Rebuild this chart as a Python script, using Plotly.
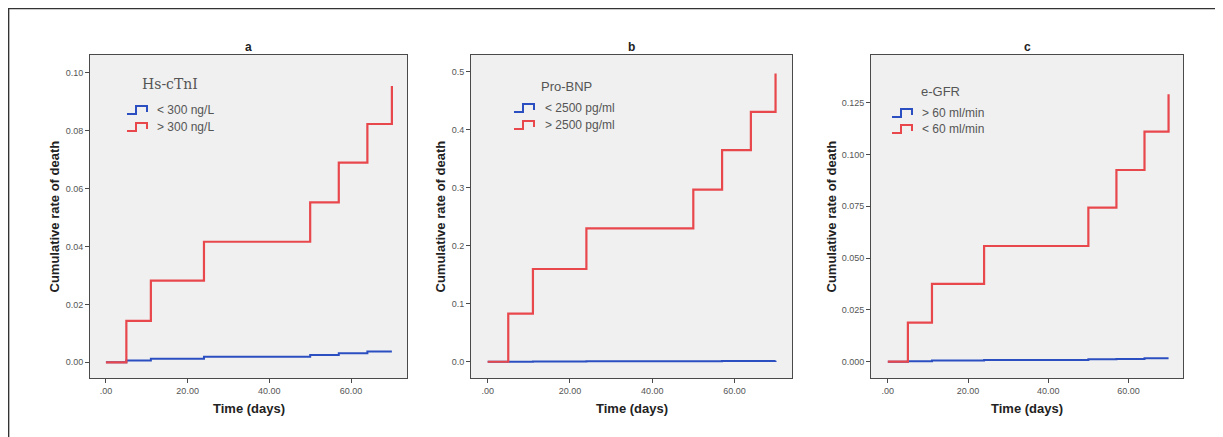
import plotly.graph_objects as go

# ---- data ----
days = [0, 5, 11, 24, 50, 57, 64, 70]

a_low = [0, 0.0006, 0.0012, 0.0019, 0.0025, 0.0031, 0.0037, 0.0037]
a_high = [0, 0.0143, 0.0282, 0.0416, 0.0552, 0.0689, 0.0822, 0.0953]

b_low = [0, 0.0002, 0.0004, 0.0007, 0.0010, 0.0012, 0.0015, 0.0017]
b_high = [0, 0.083, 0.160, 0.230, 0.297, 0.365, 0.431, 0.497]

c_low = [0, 0.0002, 0.0005, 0.0008, 0.0011, 0.0013, 0.0016, 0.0016]
c_high = [0, 0.0188, 0.0375, 0.0558, 0.0743, 0.0925, 0.111, 0.129]

panel_titles = ["a", "b", "c"]
legend_titles = ["Hs-cTnI", "Pro-BNP", "e-GFR"]
low_labels = ["< 300 ng/L", "< 2500 pg/ml", "> 60 ml/min"]
high_labels = ["> 300 ng/L", "> 2500 pg/ml", "< 60 ml/min"]

x_tickvals = [0, 20, 40, 60]
x_ticktext = [".00", "20.00", "40.00", "60.00"]
a_yticks = [0, 0.02, 0.04, 0.06, 0.08, 0.10]
a_yticktext = ["0.00", "0.02", "0.04", "0.06", "0.08", "0.10"]
b_yticks = [0, 0.1, 0.2, 0.3, 0.4, 0.5]
b_yticktext = ["0.0", "0.1", "0.2", "0.3", "0.4", "0.5"]
c_yticks = [0, 0.025, 0.05, 0.075, 0.1, 0.125]
c_yticktext = ["0.000", "0.025", "0.050", "0.075", "0.100", "0.125"]

# ---- layout geometry (page pixels; the page body has an 8px margin) ----
OFF = 8
W, H = 1223 - OFF, 437 - OFF
def px_x(p): return (p - OFF) / W
def px_y(p): return 1 - (p - OFF) / H

plot_x = [(90, 407), (471, 792), (871, 1183)]
plot_y = (55, 378)
x_ranges = [[-3.9, 73.7], [-4.06, 74.0], [-4.2, 73.6]]
y_ranges = [[-0.0054, 0.106], [-0.028, 0.529], [-0.0079, 0.148]]
ytv = [a_yticks, b_yticks, c_yticks]
ytt = [a_yticktext, b_yticktext, c_yticktext]
lows = [a_low, b_low, c_low]
highs = [a_high, b_high, c_high]
ylabel_x = [54, 440, 831]
# legend: (icon x, text x, title x, title y, entry1 y, entry2 y)
legend_geo = [(127, 155, 140, 84, 110, 127),
              (514, 543, 539, 86, 108, 125),
              (892, 920, 919, 91, 113, 129)]
title_fonts = [dict(family="DejaVu Serif", size=14, color="#555"),
               dict(family="Arial", size=13, color="#555"),
               dict(family="Arial", size=13, color="#555")]

RED = "#e8474c"
BLUE = "#2b4fc0"
AX = "#4a4a4a"

fig = go.Figure()
layout = dict(
    width=W, height=H,
    margin=dict(l=0, r=0, t=0, b=0),
    paper_bgcolor="white",
    plot_bgcolor="#f0f0f0",
    font=dict(family="Arial", color="#333"),
    showlegend=False,
)
annotations = []
shapes = []


def icon_path(x0, yc):
    # small step glyph like the SPSS legend icon
    pts = [(x0, yc + 4), (x0 + 9, yc + 4), (x0 + 9, yc - 4), (x0 + 20, yc - 4), (x0 + 20, yc + 2)]
    d = "M " + " L ".join(f"{px_x(x):.5f},{px_y(y):.5f}" for x, y in pts)
    return d


for i in range(3):
    sfx = "" if i == 0 else str(i + 1)
    xa, ya = "x" + sfx, "y" + sfx
    fig.add_trace(go.Scatter(x=days, y=lows[i], mode="lines", line=dict(color=BLUE, width=2, shape="hv"),
                             name=low_labels[i], xaxis=xa, yaxis=ya))
    fig.add_trace(go.Scatter(x=days, y=highs[i], mode="lines", line=dict(color=RED, width=2.2, shape="hv"),
                             name=high_labels[i], xaxis=xa, yaxis=ya))
    layout["xaxis" + sfx] = dict(
        domain=[px_x(plot_x[i][0]), px_x(plot_x[i][1])], anchor=ya, range=x_ranges[i],
        tickvals=x_tickvals, ticktext=x_ticktext, ticks="outside", ticklen=4, tickcolor=AX,
        showline=True, linecolor=AX, linewidth=1, mirror=True, showgrid=False, zeroline=False,
        tickfont=dict(size=9, color="#555"),
    )
    layout["yaxis" + sfx] = dict(
        domain=[px_y(plot_y[1]), px_y(plot_y[0])], anchor=xa, range=y_ranges[i],
        tickvals=ytv[i], ticktext=ytt[i], ticks="outside", ticklen=4, tickcolor=AX,
        showline=True, linecolor=AX, linewidth=1, mirror=True, showgrid=False, zeroline=False,
        tickfont=dict(size=9, color="#555"),
    )
    ix, tx, ttx, tty, e1, e2 = legend_geo[i]
    annotations.append(dict(text=legend_titles[i], x=px_x(ttx), y=px_y(tty), xanchor="left", yanchor="middle",
                            xref="paper", yref="paper", showarrow=False, font=title_fonts[i]))
    for lab, yy, col in ((low_labels[i], e1, BLUE), (high_labels[i], e2, RED)):
        annotations.append(dict(text=lab, x=px_x(tx), y=px_y(yy), xanchor="left", yanchor="middle",
                                xref="paper", yref="paper", showarrow=False,
                                font=dict(size=12, color="#555")))
        shapes.append(dict(type="path", xref="paper", yref="paper", path=icon_path(ix, yy),
                           line=dict(color=col, width=2)))
    cx = (plot_x[i][0] + plot_x[i][1]) / 2
    annotations.append(dict(text="<b>" + panel_titles[i] + "</b>", x=px_x(cx), y=px_y(47),
                            xanchor="center", yanchor="middle",
                            xref="paper", yref="paper", showarrow=False, font=dict(size=12, color="#222")))
    annotations.append(dict(text="<b>Time (days)</b>", x=px_x(cx), y=px_y(408),
                            xanchor="center", yanchor="middle",
                            xref="paper", yref="paper", showarrow=False, font=dict(size=13, color="#222")))
    annotations.append(dict(text="<b>Cumulative rate of death</b>", x=px_x(ylabel_x[i]),
                            y=px_y((plot_y[0] + plot_y[1]) / 2), textangle=-90,
                            xanchor="center", yanchor="middle",
                            xref="paper", yref="paper", showarrow=False, font=dict(size=13, color="#222")))

shapes.append(dict(type="rect", xref="paper", yref="paper", x0=px_x(8.6), y0=-0.2, x1=1.2, y1=px_y(8.6),
                   line=dict(color="#333", width=1.5), fillcolor="rgba(0,0,0,0)", layer="below"))
layout["annotations"] = annotations
layout["shapes"] = shapes
fig.update_layout(**layout)
fig.write_html("out.html")
